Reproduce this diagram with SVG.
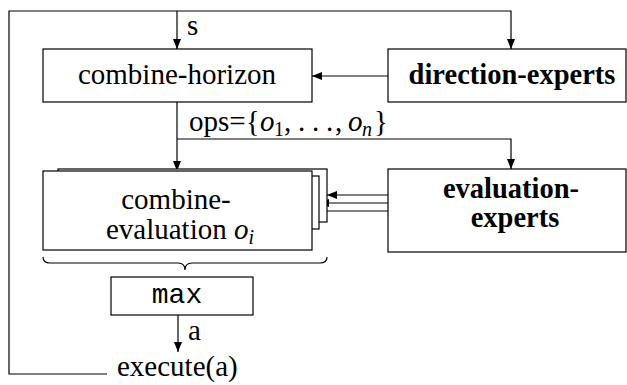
<svg xmlns="http://www.w3.org/2000/svg" width="627" height="385" viewBox="0 0 627 385">
<defs>
<marker id="ah" viewBox="0 0 10 8" refX="10" refY="4" markerWidth="10" markerHeight="8" markerUnits="userSpaceOnUse" orient="auto">
<path d="M0,0 L10,4 L0,8 Z" fill="#000"/>
</marker>
</defs>
<style>
.box{fill:#fff;stroke:#000;stroke-width:1.2}
.ln{fill:none;stroke:#000;stroke-width:1.2}
</style>
<g id="connectors">
<path class="ln" d="M107,374 H9 V11 H511 V49" marker-end="url(#ah)"/>
<path class="ln" d="M177,11 V49" marker-end="url(#ah)"/>
<path class="ln" d="M388,76 H312" marker-end="url(#ah)"/>
<path class="ln" d="M177,102 V171" marker-end="url(#ah)"/>
<path class="ln" d="M177,139 H511 V169" marker-end="url(#ah)"/>
<path class="ln" d="M388,195 H327" marker-end="url(#ah)"/>
<path class="ln" d="M388,203 H319" marker-end="url(#ah)"/>
<path class="ln" d="M388,211 H312" marker-end="url(#ah)"/>
<path class="ln" d="M178,315 V352" marker-end="url(#ah)"/>
<path class="ln" d="M43,257 Q43,263 50,263 L178,263 Q185,263 185,270 Q185,263 192,263 L320,263 Q327,263 327,257"/>
<g font-family="Liberation Serif, Times New Roman, serif" font-size="29">
<text x="187" y="35">s</text>
<text x="189" y="131">ops={<tspan x="260" font-style="italic">o</tspan><tspan x="274" font-size="20" dy="5">1</tspan><tspan x="284" dy="-5">,</tspan><tspan x="298">.</tspan><tspan x="312">.</tspan><tspan x="326">.</tspan><tspan x="335">,</tspan><tspan x="348" font-style="italic">o</tspan><tspan x="362" font-size="20" font-style="italic" dy="5">n</tspan><tspan x="374" dy="-5">}</tspan></text>
<text x="188" y="340">a</text>
</g>
</g>
<g id="combine-horizon">
<rect class="box" x="43" y="49" width="269" height="53"/>
<text font-family="Liberation Serif, Times New Roman, serif" font-size="29" x="177" y="84" text-anchor="middle">combine-horizon</text>
</g>
<g id="direction-experts">
<rect class="box" x="388" y="49" width="238" height="53"/>
<text font-family="Liberation Serif, Times New Roman, serif" font-size="28.5" font-weight="bold" x="512" y="84" text-anchor="middle">direction-experts</text>
</g>
<g id="combine-evaluation">
<rect class="box" x="58" y="169" width="269" height="53"/>
<rect class="box" x="50" y="176" width="269" height="53"/>
<rect class="box" x="43" y="171" width="269" height="79"/>
<g font-family="Liberation Serif, Times New Roman, serif" font-size="29" text-anchor="middle">
<text x="176" y="209">combine-</text>
<text x="180" y="239">evaluation <tspan font-style="italic">o</tspan><tspan font-size="20" font-style="italic" dy="5">i</tspan></text>
</g>
</g>
<g id="evaluation-experts">
<rect class="box" x="388" y="169" width="238" height="83"/>
<g font-family="Liberation Serif, Times New Roman, serif" font-size="28.5" font-weight="bold" text-anchor="middle">
<text x="511" y="198">evaluation-</text>
<text x="515" y="227">experts</text>
</g>
</g>
<g id="max">
<rect class="box" x="111" y="277" width="142" height="38"/>
<text font-family="Liberation Mono, Courier New, monospace" font-size="28" x="177" y="303" text-anchor="middle">max</text>
</g>
<g id="execute">
<text font-family="Liberation Serif, Times New Roman, serif" font-size="29" x="117" y="376">execute(a)</text>
</g>
</svg>
